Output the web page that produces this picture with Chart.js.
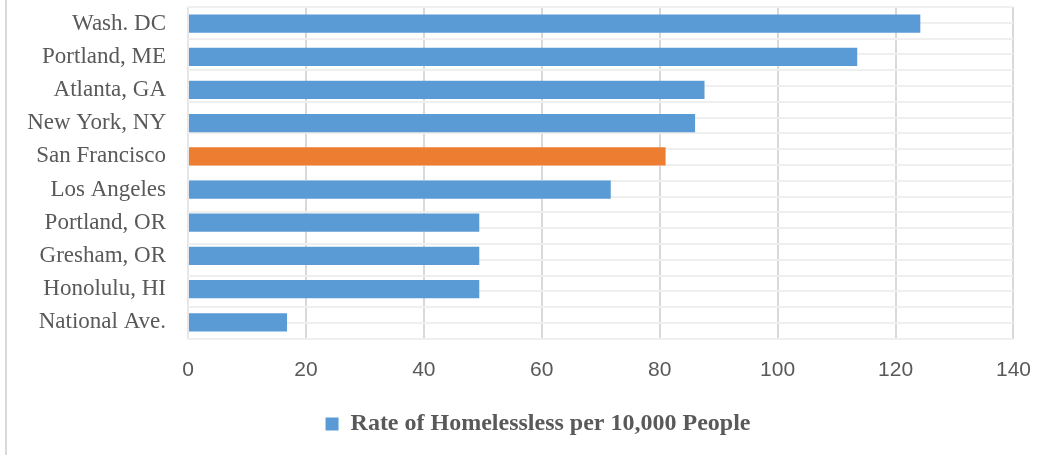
<!DOCTYPE html>
<html>
<head>
<meta charset="utf-8">
<script src="https://cdn.jsdelivr.net/npm/chart.js@4"></script>
<style>
html,body{margin:0;padding:0;background:#fff;}
#wrap{position:relative;width:1051px;height:455px;}
#edge{position:absolute;left:5px;top:0;width:2px;height:455px;background:#d9d9d9;}
canvas{position:absolute;left:0;top:0;}
</style>
</head>
<body>
<div id="wrap"><div id="edge"></div><canvas id="c" width="1051" height="455"></canvas></div>
<script>
const cities=['Wash. DC','Portland, ME','Atlanta, GA','New York, NY','San Francisco','Los Angeles','Portland, OR','Gresham, OR','Honolulu, HI','National Ave.'];
const rates=[124.2,113.5,87.6,86.0,81.0,71.7,49.4,49.4,49.4,16.8];
const xTicks=[0,20,40,60,80,100,120,140];
const seriesName='Rate of Homelessless per 10,000 People';
const highlight='San Francisco';

const BLUE='#5b9bd5', ORANGE='#ed7d31', TXT='#595959';

// legend sits a bit right of the canvas centre in the original
const legendShift={id:'legendShift',afterLayout(chart){chart.legend.left+=60;}};

new Chart(document.getElementById('c'),{
    type:'bar',
    data:{labels:cities,datasets:[{
        label:seriesName,
        data:rates,
        backgroundColor:cities.map(c=>c===highlight?ORANGE:BLUE),
        categoryPercentage:1,
        barPercentage:0.55
    }]},
    plugins:[legendShift],
    options:{
        indexAxis:'y',
        responsive:false,
        animation:false,
        layout:{padding:{top:7,right:35,bottom:9,left:0}},
        scales:{
            x:{
                min:xTicks[0],max:xTicks[xTicks.length-1],
                afterBuildTicks:s=>{s.ticks=xTicks.map(v=>({value:v}));},
                grid:{color:ctx=>ctx.index===0?'#e6e6e6':'#d9d9d9',lineWidth:2,drawTicks:false},
                border:{display:false},
                ticks:{color:TXT,padding:20,font:{family:'"Liberation Sans", Arial, sans-serif',size:21,lineHeight:1.1}}
            },
            y:{
                grid:{display:false,drawTicks:false},
                border:{display:false},
                afterFit:s=>{s.width=188;s.paddingTop=0;s.paddingBottom=0;},
                ticks:{color:TXT,padding:22,autoSkip:false,font:{family:'"Liberation Serif", "Times New Roman", serif',size:23}}
            },
            half:{
                type:'linear',position:'right',min:0,max:cities.length*2,
                afterFit:s=>{s.paddingTop=0;s.paddingBottom=0;},
                ticks:{display:false,stepSize:1},
                grid:{color:'#efefef',lineWidth:2,drawTicks:false},
                border:{display:false}
            }
        },
        plugins:{
            tooltip:{enabled:false},
            legend:{
                position:'bottom',
                labels:{
                    color:TXT,boxWidth:13,boxHeight:13,padding:10,
                    font:{family:'"Liberation Serif", "Times New Roman", serif',size:24,weight:'bold'},
                    generateLabels:ch=>[{text:seriesName,fillStyle:BLUE,strokeStyle:BLUE,lineWidth:0,datasetIndex:0,fontColor:TXT}]
                }
            }
        }
    }
});
</script>
</body>
</html>
